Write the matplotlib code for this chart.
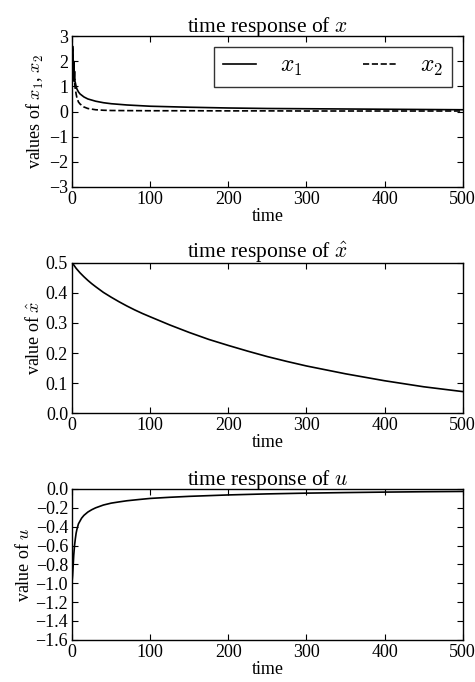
import matplotlib
matplotlib.use("Agg")
import matplotlib.pyplot as plt

plt.rcParams['font.family'] = ['Liberation Serif', 'DejaVu Serif']
plt.rcParams['mathtext.fontset'] = 'cm'
plt.rcParams['font.size'] = 12

# values
t_x = [0, 0.5, 1, 1.5, 2, 2.5, 3, 3.5, 4, 5, 6, 8, 10, 15, 20, 30, 40, 50, 70,
       100, 150, 200, 250, 300, 350, 400, 450, 500]
x1 = [2.0, 2.6, 2.2, 1.4, 2.0, 1.3, 1.6, 1.2, 1.15, 1.0, 0.9, 0.78, 0.7, 0.58,
      0.5, 0.41, 0.35, 0.31, 0.26, 0.21, 0.17, 0.14, 0.12, 0.11, 0.10, 0.09,
      0.08, 0.07]
x2 = [2.0, 2.5, 1.9, 1.5, 1.7, 1.2, 1.3, 1.0, 0.9, 0.7, 0.55, 0.38, 0.3, 0.18,
      0.12, 0.07, 0.05, 0.04, 0.035, 0.03, 0.03, 0.025, 0.025, 0.02, 0.02,
      0.02, 0.02, 0.02]

t_xh = [0, 2, 5, 10, 15, 20, 25, 30, 40, 50, 60, 70, 80, 90, 100, 125, 150,
        175, 200, 225, 250, 275, 300, 350, 400, 450, 500]
xhat = [0.5, 0.492, 0.481, 0.466, 0.453, 0.441, 0.43, 0.42, 0.401, 0.385,
        0.37, 0.356, 0.343, 0.331, 0.32, 0.293, 0.268, 0.245, 0.225, 0.206,
        0.188, 0.172, 0.157, 0.131, 0.108, 0.088, 0.072]

t_u = [0, 0.5, 1, 2, 3, 4, 5, 6, 7, 8, 10, 12, 15, 20, 25, 30, 40, 50, 60,
       70, 85, 100, 125, 150, 200, 250, 300, 350, 400, 450, 500]
u = [-0.97, -0.92, -0.85, -0.7, -0.6, -0.53, -0.47, -0.43, -0.4, -0.37,
     -0.34, -0.31, -0.28, -0.245, -0.22, -0.2, -0.17, -0.15, -0.137, -0.125,
     -0.112, -0.1, -0.088, -0.078, -0.063, -0.052, -0.044, -0.038, -0.033,
     -0.029, -0.026]


def style(ax):
    ax.tick_params(direction='in', top=True, right=True, length=4, width=0.8,
                   labelsize=13, pad=3)
    ax.set_xlim(0, 500)
    ax.set_xticks([0, 100, 200, 300, 400, 500])
    ax.set_xlabel('time', fontsize=13, labelpad=0)
    for s in ax.spines.values():
        s.set_linewidth(1.0)


fig = plt.figure(figsize=(4.75, 6.82), dpi=100)

ax1 = fig.add_axes([0.152, 0.726, 0.822, 0.221])
ax1.plot(t_x, x1, 'k-', lw=1.2, label=r'$x_1$')
ax1.plot(t_x, x2, 'k--', lw=1.2, label=r'$x_2$')
ax1.set_ylim(-3, 3)
ax1.set_yticks(range(-3, 4))
ax1.set_ylabel(r'values of $x_1$, $x_2$', fontsize=13, labelpad=2)
ax1.set_title(r'time response of $x$', fontsize=15.5, pad=3)
style(ax1)
leg = ax1.legend(loc='upper right', ncol=2, fontsize=17, handlelength=1.4,
                 columnspacing=2.6, handletextpad=1.0, fancybox=False,
                 borderpad=0.38, borderaxespad=0.45)
leg.get_frame().set_edgecolor('black')
leg.get_frame().set_linewidth(1.0)

ax2 = fig.add_axes([0.152, 0.394, 0.822, 0.221])
ax2.plot(t_xh, xhat, 'k-', lw=1.2)
ax2.set_ylim(0, 0.5)
ax2.set_yticks([0.0, 0.1, 0.2, 0.3, 0.4, 0.5])
ax2.set_ylabel(r'value of $\hat{x}$', fontsize=13, labelpad=2)
ax2.set_title(r'time response of $\hat{x}$', fontsize=15.5, pad=3)
style(ax2)

ax3 = fig.add_axes([0.152, 0.062, 0.822, 0.221])
ax3.plot(t_u, u, 'k-', lw=1.2)
ax3.set_ylim(-1.6, 0)
ax3.set_yticks([-1.6, -1.4, -1.2, -1.0, -0.8, -0.6, -0.4, -0.2, 0.0])
ax3.set_ylabel(r'value of $u$', fontsize=13, labelpad=2)
ax3.set_title(r'time response of $u$', fontsize=15.5, pad=3)
style(ax3)

fig.savefig('out.png', dpi=100)
